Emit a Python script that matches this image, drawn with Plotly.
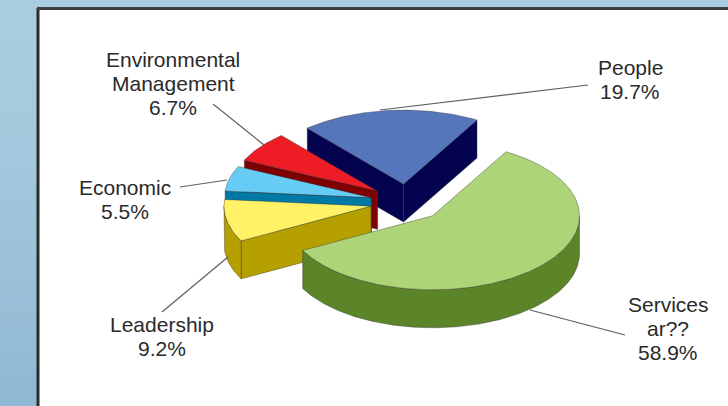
import numpy as np
import plotly.graph_objects as go

categories = ["Services<br>ar??", "Leadership", "Economic", "Environmental<br>Management", "People"]
values = [58.9, 9.2, 5.5, 6.7, 19.7]
top_colors = ["#add577", "#fff266", "#66ccf5", "#ee1c25", "#5576bb"]
side_colors = ["#5c8428", "#b5a000", "#0079a5", "#7f0000", "#03034f"]

W, H = 728, 406
CX, CY, RX, RY, DEPTH = 407, 202.5, 147, 74, 38
EXPLODE, START = 0.25, 30.0

fig = go.Figure()
EDGE = dict(color="rgba(45,45,45,0.55)", width=0.7)


def poly(xs, ys, color):
    fig.add_trace(go.Scatter(x=xs, y=ys, mode="lines", fill="toself", fillcolor=color,
                             line=EDGE, hoverinfo="skip", showlegend=False))


total = sum(values)
spans = [v / total * 360 for v in values]
starts = START + np.cumsum([0] + spans[:-1])
slices = []
for s0, sp, tc, sc in zip(starts, spans, top_colors, side_colors):
    mid = np.radians(s0 + sp / 2)
    slices.append((-np.cos(mid), s0, sp, tc, sc, mid))
slices.sort(key=lambda r: r[0])

for _, s0, sp, tc, sc, mid in slices:
    cx = CX + EXPLODE * RX * np.sin(mid)
    cy = CY - EXPLODE * RY * np.cos(mid)
    t = np.radians(np.linspace(s0, s0 + sp, max(8, int(sp * 1.5))))
    ax, ay = cx + RX * np.sin(t), cy - RY * np.cos(t)
    # radial side faces that look towards the viewer
    if np.sin(t[0]) < 0:
        poly([cx, ax[0], ax[0], cx, cx], [cy, ay[0], ay[0] + DEPTH, cy + DEPTH, cy], sc)
    if np.sin(t[-1]) > 0:
        poly([cx, ax[-1], ax[-1], cx, cx], [cy, ay[-1], ay[-1] + DEPTH, cy + DEPTH, cy], sc)
    # front part of the outer wall
    lo, hi = max(s0, 90.0), min(s0 + sp, 270.0)
    if hi > lo:
        w = np.radians(np.linspace(lo, hi, max(6, int((hi - lo) * 1.5))))
        wx, wy = cx + RX * np.sin(w), cy - RY * np.cos(w)
        poly(list(wx) + list(wx[::-1]) + [wx[0]], list(wy) + list(wy[::-1] + DEPTH) + [wy[0]], sc)
    # top face
    poly([cx] + list(ax) + [cx], [cy] + list(ay) + [cy], tc)

# background gradient and frame
shapes = []
n = 41
for i in range(n):
    f = i / (n - 1)
    r, g, b = (170 - 27 * f ** 1.5, 204 - 20 * f ** 1.5, 224 - 14 * f ** 1.5)
    shapes.append(dict(type="rect", layer="below", xref="x", yref="y", x0=0, x1=38,
                       y0=H * i / n, y1=H * (i + 1) / n + 1, line_width=0,
                       fillcolor=f"rgb({r:.0f},{g:.0f},{b:.0f})"))
shapes.append(dict(type="rect", layer="below", xref="x", yref="y", x0=0, x1=W, y0=0, y1=8,
                   line_width=0, fillcolor="#abcde1"))
shapes.append(dict(type="line", xref="x", yref="y", x0=38, x1=38, y0=8, y1=H,
                   line=dict(color="#2b2b2b", width=3)))
shapes.append(dict(type="line", xref="x", yref="y", x0=37, x1=W, y0=8.5, y1=8.5,
                   line=dict(color="#3d3d3d", width=3)))

# leader lines
for x0, y0, x1, y1 in [(213, 104, 264, 145), (380, 110, 588, 85), (180, 187, 227, 180),
                       (162, 312, 228, 257), (530, 310, 625, 335)]:
    shapes.append(dict(type="line", xref="x", yref="y", x0=x0, y0=y0, x1=x1, y1=y1,
                       line=dict(color="#5f5f5f", width=1.2)))

label_anchor = {"People": (630, 67.5), "Economic": (125, 187.5), "Leadership": (162, 324.5),
                "Environmental<br>Management": (173, 59.5), "Services<br>ar??": (668, 304.5)}
annotations = []
for cat, v in zip(categories, values):
    ax_, ay_ = label_anchor[cat]
    for j, line in enumerate(cat.split("<br>") + [f"{v:.1f}%"]):
        annotations.append(dict(x=ax_, y=ay_ + j * 24, xref="x", yref="y", text=line, showarrow=False,
                                xanchor="center", yanchor="middle",
                                font=dict(family="Liberation Sans, Arial", size=21, color="#2a2a2a")))

fig.update_layout(width=W, height=H, margin=dict(l=0, r=0, t=0, b=0), autosize=False,
                  paper_bgcolor="white", plot_bgcolor="white", showlegend=False,
                  xaxis=dict(range=[0, W], visible=False, fixedrange=True),
                  yaxis=dict(range=[H, 0], visible=False, fixedrange=True),
                  shapes=shapes, annotations=annotations)
fig.write_html("out.html", config={"displayModeBar": False},
               post_script="document.body.style.margin='0';document.documentElement.style.overflow='hidden';")
